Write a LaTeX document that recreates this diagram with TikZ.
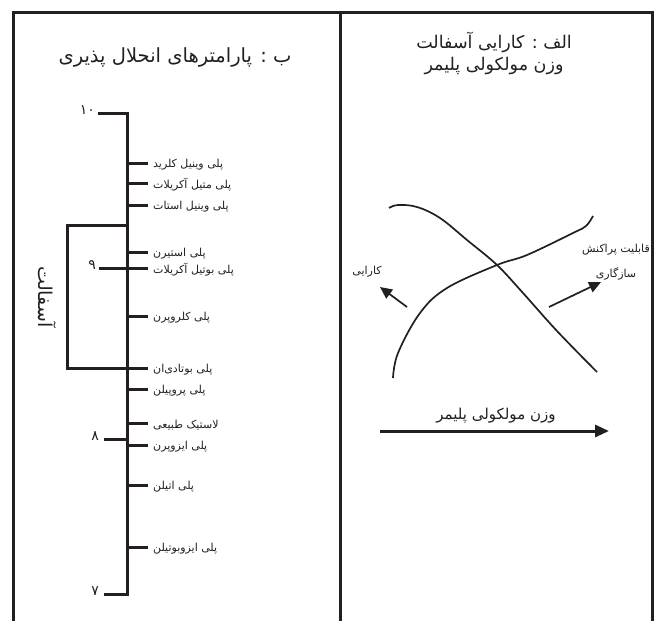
\documentclass[tikz,border=0pt]{standalone}
\usepackage{fontspec}
\newfontfamily\arabicfont[Script=Arabic]{DejaVu Sans}
\TeXXeTstate=1
\usetikzlibrary{arrows.meta}
\definecolor{ink}{HTML}{231F20}
\newcommand{\fa}[1]{\beginR #1\endR}
\begin{document}
\begin{tikzpicture}[x=1pt,y=-1pt,
  frame/.style={draw=ink,line width=3pt},
  axisline/.style={draw=ink,line width=3pt},
  curve/.style={draw=ink,line width=1.7pt},
  lab/.style={anchor=west,inner sep=2pt,text=ink,font=\arabicfont\fontsize{11}{12}\selectfont},
  num/.style={anchor=east,inner sep=2pt,text=ink,font=\arabicfont\fontsize{14}{15}\selectfont},
  ttl/.style={text=ink,inner sep=1pt,font=\arabicfont\fontsize{17.5}{19}\selectfont},
  small/.style={text=ink,inner sep=1pt,font=\arabicfont\fontsize{11}{12}\selectfont}]
\useasboundingbox (0,0) rectangle (657,621);
\fill[white] (0,0) rectangle (657,621);
% frame
\draw[frame] (13,623) -- (13,12) -- (652,12) -- (652,623);
\draw[frame] (340,12) -- (340,623);

% ===== left panel =====
\node[text=ink,inner sep=1pt,font=\arabicfont\fontsize{19.5}{21}\selectfont] (ttlB) at (175,57) {\fa{ب : پارامترهای انحلال پذیری}};

\coordinate (axT) at (127,113);
\coordinate (axB) at (127,594);
\node[num] (n10) at (97,110) {۱۰};
\node[num] (n9) at (98,265) {۹};
\node[num] (n8) at (101,436) {۸};
\node[num] (n7) at (101,591) {۷};
\coordinate (k10) at (98,113);
\coordinate (k9) at (99,268);
\coordinate (k8) at (104,439);
\coordinate (k7) at (104,594);
\draw[axisline] (k10) -- (axT) -- (axB) -- (k7);
\draw[axisline] (k9) -- (127,268);
\draw[axisline] (k8) -- (127,439);

% bracket
\coordinate (brT) at (127,225);
\coordinate (brB) at (127,368);
\draw[axisline] (brT) -- (67,225) -- (67,368) -- (brB);
\node[text=ink,rotate=-90,inner sep=1pt,font=\arabicfont\fontsize{19}{20}\selectfont] (asph) at (47,297) {\fa{آسفالت}};

% labels with ticks
\foreach \nm/\yy/\txt in {
  a/163/{پلی وینیل کلرید},
  b/183/{پلی متیل آکریلات},
  c/205/{پلی وینیل استات},
  d/252/{پلی استیرن},
  e/268/{پلی بوتیل آکریلات},
  f/316/{پلی کلروپرن},
  g/368/{پلی بوتادی‌ان},
  h/389/{پلی پروپیلن},
  i/423/{لاستیک طبیعی},
  j/445/{پلی ایزوپرن},
  k/485/{پلی اتیلن},
  l/547/{پلی ایزوبوتیلن}}{
  \coordinate (t\nm) at (127,\yy);
  \node[lab] (l\nm) at (151,\yy+2) {\fa{\txt}};
  \draw[axisline] (t\nm) -- (148,\yy);
}

% ===== right panel =====
\node[ttl] (ttlA1) at (494,42) {\fa{الف : کارایی آسفالت}};
\node[ttl] (ttlA2) at (494,66) {\fa{وزن مولکولی پلیمر}};

\draw[curve] plot[smooth,tension=0.6] coordinates {(389,208) (398,205) (417,207) (440,218) (467,240) (497,265) (523,293) (557,331) (597,372)};
\draw[curve] plot[smooth,tension=0.6] coordinates {(393,378) (398,353) (420,313) (447,288) (497,265) (527,255) (573,233) (586,226) (593,216)};

\coordinate (a1s) at (407,307);
\coordinate (a1e) at (380,287);
\draw[curve,-{Triangle[length=12pt,width=11pt]}] (a1s) -- (a1e);
\node[small] (kar) at (367,272) {\fa{کارایی}};

\coordinate (a2s) at (549,307);
\coordinate (a2e) at (601,282);
\draw[curve,-{Triangle[length=12pt,width=11pt]}] (a2s) -- (a2e);
\node[small] (qab) at (616,250) {\fa{قابلیت پراکنش}};
\node[small] (saz) at (616,274) {\fa{سازگاری}};

\coordinate (x1) at (380,431);
\coordinate (x2) at (609,431);
\draw[axisline,-{Triangle[length=14pt,width=12pt]}] (x1) -- (x2);
\node[text=ink,inner sep=1pt,font=\arabicfont\fontsize{15}{17}\selectfont] (xl) at (496,416) {\fa{وزن مولکولی پلیمر}};
\end{tikzpicture}
\end{document}
